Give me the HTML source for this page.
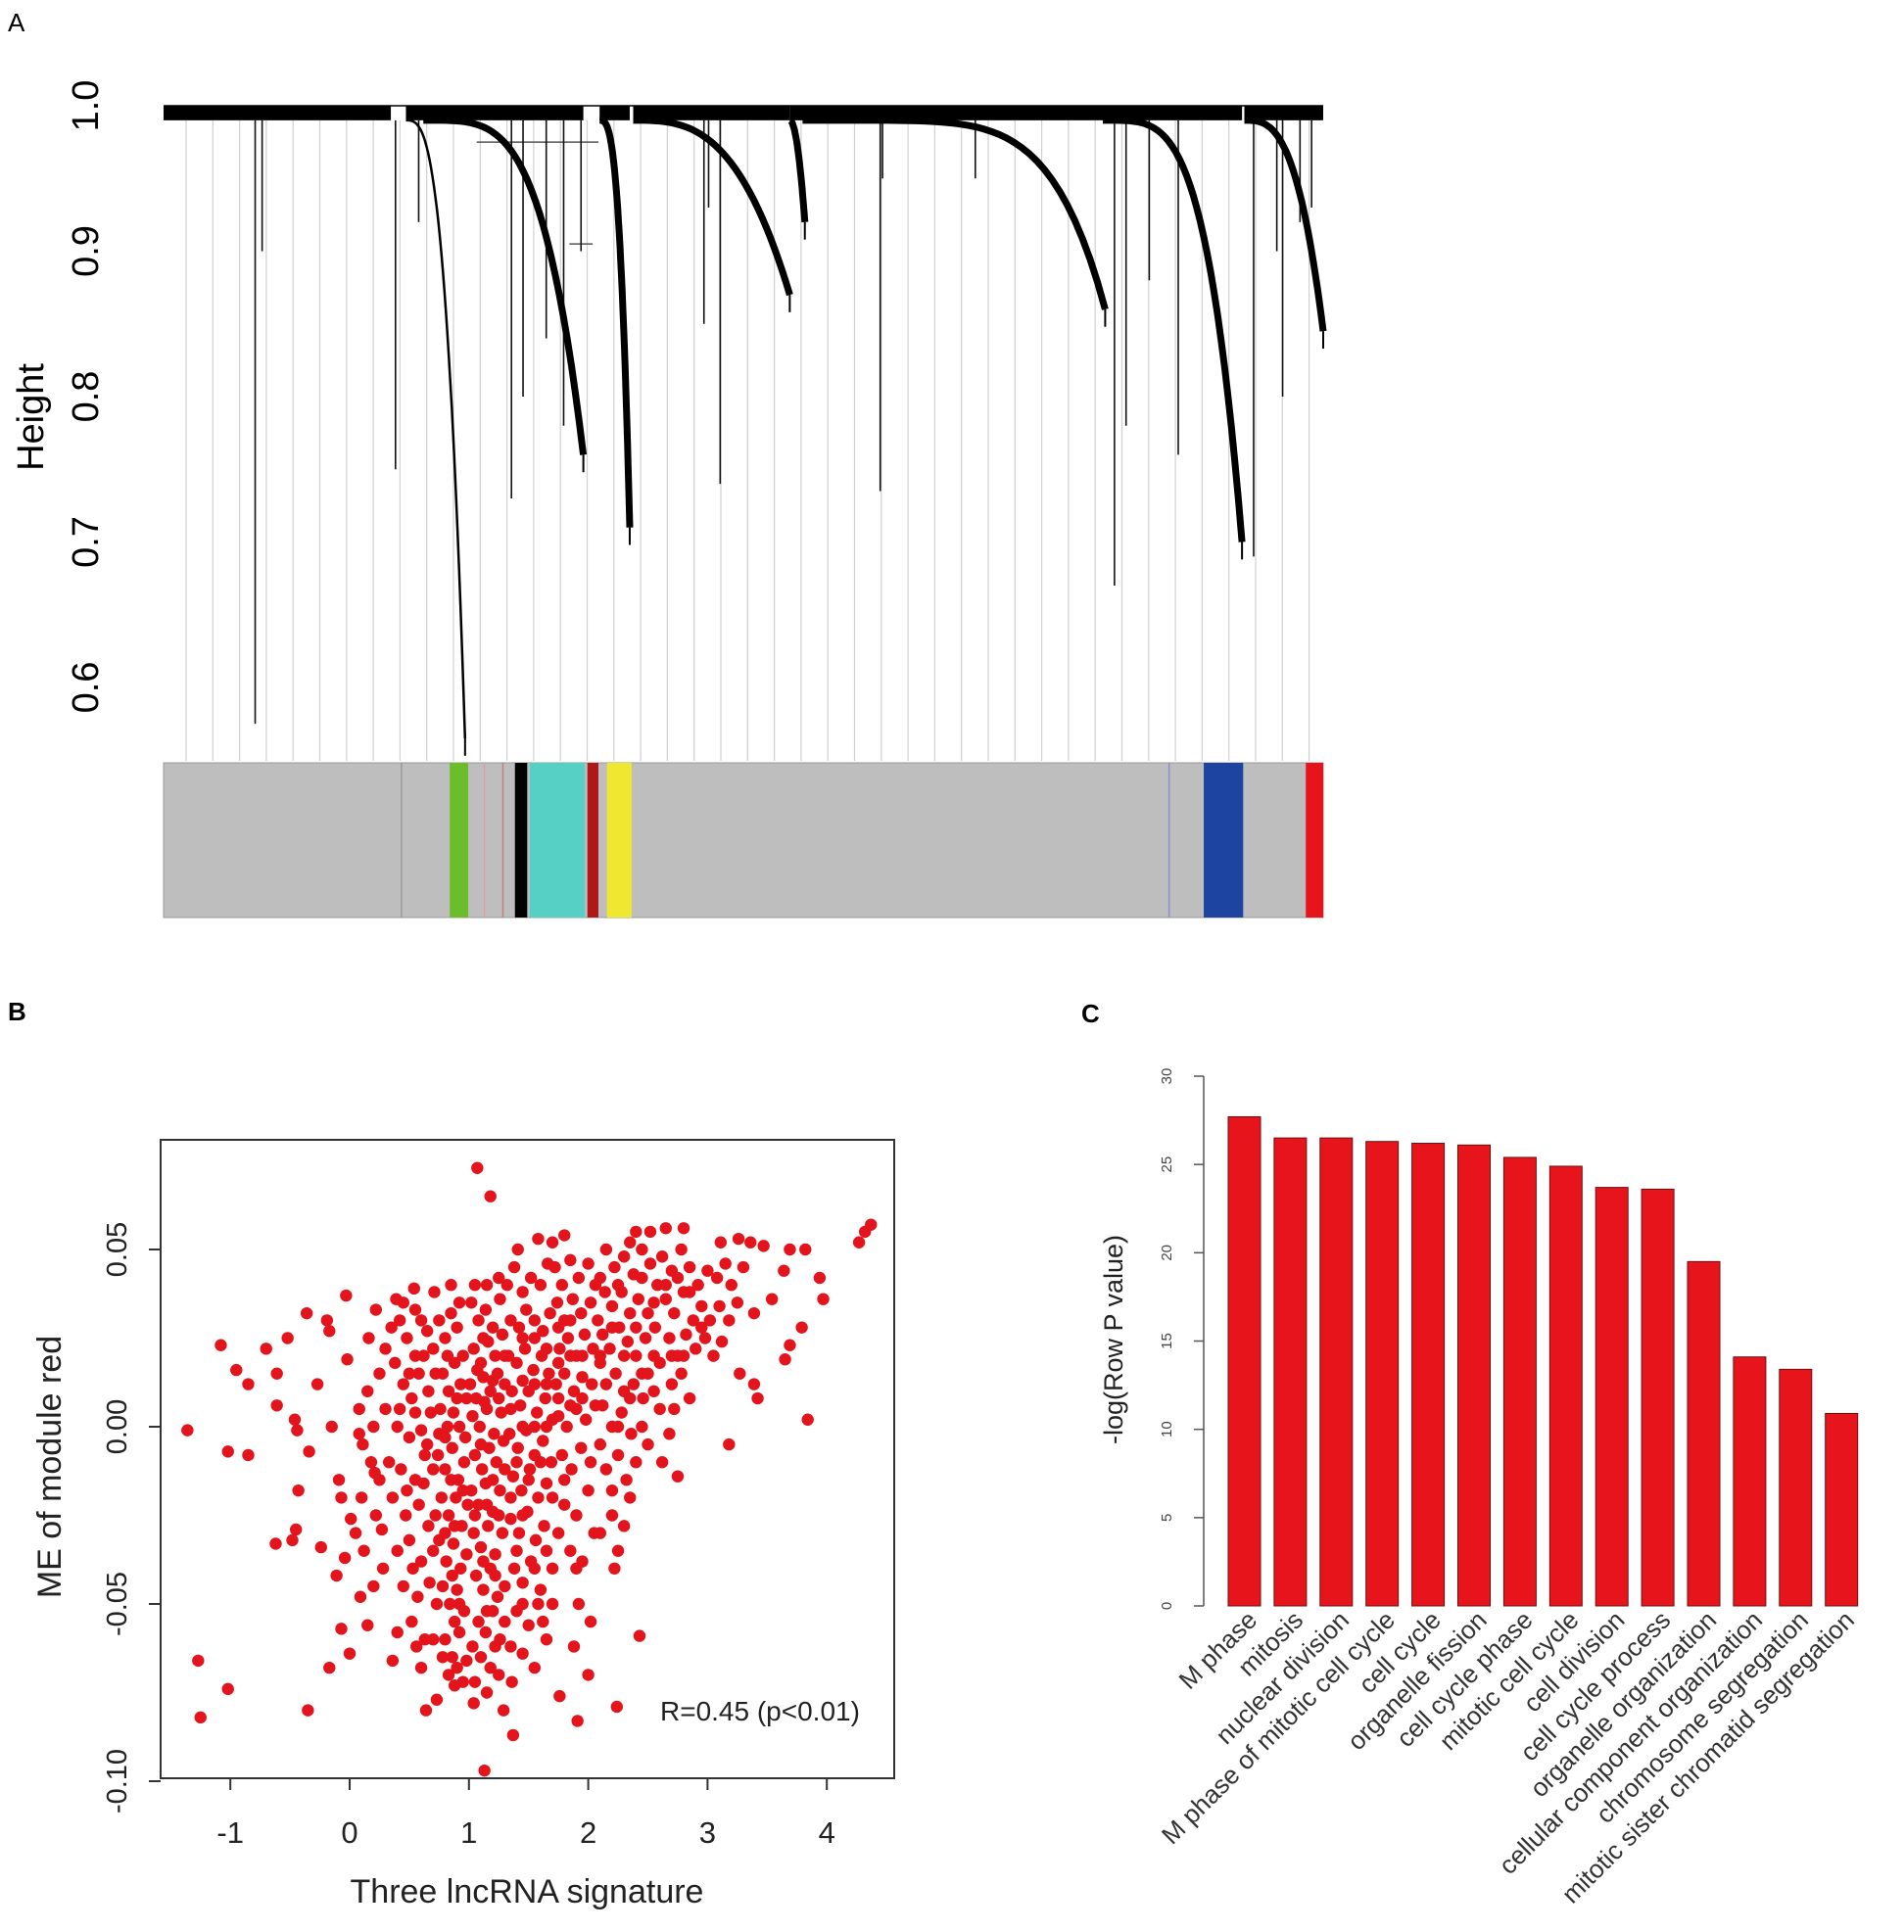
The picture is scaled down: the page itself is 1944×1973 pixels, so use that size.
<!DOCTYPE html>
<html><head><meta charset="utf-8"><style>
html,body{margin:0;padding:0;background:#fff;}
svg{display:block;font-family:"Liberation Sans",Arial,sans-serif;}
</style></head><body>
<svg id="fig" width="1944" height="1973" viewBox="0 0 1944 1973" xmlns="http://www.w3.org/2000/svg">
<rect width="1944" height="1973" fill="#fff"/>
<text x="8" y="32" font-size="26">A</text>
<text x="8" y="1042" font-size="26" font-weight="bold">B</text>
<text x="1104" y="1044" font-size="26" font-weight="bold">C</text>
<g id="panelA"></g>
<g id="panelB"></g>
<g id="panelC"></g>
</svg>
<script>
const NS="http://www.w3.org/2000/svg";
function mk(parent,tag,attrs,text){const e=document.createElementNS(NS,tag);for(const k in attrs)e.setAttribute(k,attrs[k]);if(text!==undefined)e.textContent=text;parent.appendChild(e);return e;}

/* ---------- Panel A: dendrogram ---------- */
const dendroTicks=[1.0,0.9,0.8,0.7,0.6];
const clusterStart=[0.0,0.209,0.224,0.376,0.405,0.540,0.551,0.810,0.932];
const clusterEnd=[0.196,0.260,0.362,0.402,0.540,0.553,0.812,0.930,1.0];
const clusterEndH=[0.986,0.565,0.76,0.71,0.87,0.92,0.86,0.70,0.845];
const clusterPow=[1,3,4,3,3,2,6,4,3];
const spikeFrac=[0.079,0.085,0.2,0.22,0.3,0.31,0.33,0.345,0.36,0.48,0.466,0.618,0.47,0.62,0.70,0.82,0.83,0.85,0.875,0.94,0.96,0.965,0.98,0.99];
const spikeH=[0.575,0.90,0.75,0.92,0.73,0.80,0.84,0.78,0.90,0.74,0.85,0.735,0.93,0.95,0.95,0.67,0.78,0.88,0.76,0.69,0.90,0.80,0.92,0.93];
const colorSegStart=[0.2045,0.2468,0.276,0.292,0.303,0.3157,0.3655,0.3824,0.8665,0.897,0.985];
const colorSegEnd=[0.2055,0.2627,0.277,0.293,0.3136,0.3633,0.375,0.4036,0.8675,0.931,1.0];
const colorSegCol=["#999","#6cbd2c","#d9a0a0","#c08080","#000","#56cfc4","#b01818","#f0e830","#8890d0","#1c44a0","#e8141b"];

const A=document.getElementById('panelA');
const aX0=167,aX1=1351,aY1=108,aYs=1485;
const xA=f=>aX0+f*(aX1-aX0);
const yA=h=>aY1+(1-h)*aYs;
dendroTicks.forEach(t=>{
  const y=yA(t);
  const tx=mk(A,'text',{x:0,y:0,'font-size':38,'text-anchor':'middle',transform:`translate(100,${y}) rotate(-90)`},t.toFixed(1));
  
  
});
const hl=mk(A,'text',{x:0,y:0,'font-size':38,'text-anchor':'middle',transform:`translate(44,426) rotate(-90)`},'Height');


for(let x=190;x<aX1;x+=27.3){
  const l=mk(A,'line',{x1:x,x2:x,y1:yA(0.99),y2:777,stroke:'#d0d0d0','stroke-width':1.2});
  
  
}
const rootLine=mk(A,'line',{x1:aX0,x2:aX1,y1:yA(1.0),y2:yA(1.0),stroke:'#000','stroke-width':1.5});


mk(A,'line',{x1:xA(0.27),x2:xA(0.375),y1:yA(0.975),y2:yA(0.975),stroke:'#555','stroke-width':1.5});
mk(A,'line',{x1:xA(0.35),x2:xA(0.37),y1:yA(0.905),y2:yA(0.905),stroke:'#555','stroke-width':1.5});
spikeFrac.forEach((f,i)=>{
  const l=mk(A,'line',{x1:xA(f),x2:xA(f),y1:yA(0.99),y2:yA(spikeH[i]),stroke:'#111','stroke-width':1.6});
  
  
});
clusterStart.forEach((s,i)=>{
  const e=clusterEnd[i],hE=clusterEndH[i],p=clusterPow[i];
  const band=mk(A,'rect',{x:xA(s),y:yA(1.0),width:xA(e)-xA(s),height:yA(0.99)-yA(1.0),fill:'#000'});
  
  
  if(hE<0.98){
    let d='';
    for(let k=0;k<=40;k++){const t=k/40;const h=0.99-(0.99-hE)*Math.pow(t,p);d+=(k?'L':'M')+xA(s+(e-s)*t).toFixed(1)+','+yA(h).toFixed(1);}
    const c=mk(A,'path',{d:d,fill:'none',stroke:'#000','stroke-width':i==1?2.5:7});
    
    
    mk(A,'line',{x1:xA(e),x2:xA(e),y1:yA(hE),y2:yA(hE-0.012),stroke:'#000','stroke-width':2});
  }
});
const colorBar=mk(A,'rect',{x:aX0,y:779,width:aX1-aX0,height:158,fill:'#bebebe',stroke:'#999','stroke-width':1});


colorSegStart.forEach((s,i)=>{
  const r=mk(A,'rect',{x:xA(s),y:779,width:Math.max(1.5,xA(colorSegEnd[i])-xA(s)),height:158,fill:colorSegCol[i]});
  
  
});

/* ---------- Panel B: scatter ---------- */
const sigX=[-1.36,-1.27,-1.25,-1.02,-1.08,-1.02,-0.95,-0.85,-0.85,-0.70,-0.61,-0.61,-0.62,-0.52,-0.46,-0.44,-0.43,-0.45,-0.48,-0.36,-0.35,-0.34,-0.27,-0.24,-0.19,-0.17,-0.17,-0.15,-0.11,-0.03,0,-0.04,-0.07,-0.02,-0.09,-0.07,0.01,0.09,0.15,0.11,0.08,0.16,0.22,0.21,0.27,0.36,0.40,0.39,0.54,0.56,0.64,0.71,0.73,0.88,1.04,1.07,1.18,1.13,1.29,1.37,1.41,1.58,1.70,1.80,1.76,1.91,2.24,2.43,2.40,2.52,2.65,2.80,2.75,3.18,3.11,3.26,3.36,3.47,3.27,3.39,3.42,3.39,3.54,3.64,3.69,3.65,3.69,3.79,3.84,3.82,3.94,3.97,4.27,4.32,4.37,
0.35,0.42,0.48,0.55,0.6,0.65,0.7,0.38,0.45,0.52,0.58,0.66,0.3,0.4,0.5,0.6,0.68,0.33,0.43,0.55,0.63,0.7,0.36,0.47,0.58,0.66,0.4,0.5,0.6,0.7,0.45,0.57,0.67,0.52,0.63,0.28,0.25,0.2,0.15,0.1,0.05,0.12,0.2,0.25,0.3,0.18,0.08,0.22,
0.75,0.8,0.85,0.9,0.95,0.78,0.83,0.88,0.93,0.98,0.76,0.82,0.87,0.92,0.97,0.74,0.8,0.86,0.91,0.96,0.77,0.83,0.89,0.94,0.99,0.75,0.81,0.87,0.93,0.98,0.78,0.84,0.9,0.96,0.8,0.86,0.92,0.98,0.83,0.95,
1.02,1.08,1.14,1.2,1.26,1.04,1.1,1.16,1.22,1.28,1.01,1.06,1.12,1.18,1.24,1.3,1.03,1.09,1.15,1.21,1.27,1.05,1.11,1.17,1.23,1.29,1.02,1.08,1.14,1.2,1.26,1.04,1.1,1.16,1.22,1.28,1.06,1.12,1.18,1.24,1.08,1.14,1.2,1.26,1.1,1.18,1.03,1.25,
1.32,1.38,1.45,1.52,1.6,1.66,1.35,1.42,1.48,1.55,1.62,1.68,1.33,1.4,1.47,1.54,1.61,1.67,1.36,1.43,1.5,1.57,1.64,1.7,1.34,1.41,1.48,1.55,1.62,1.69,1.37,1.44,1.51,1.58,1.65,1.35,1.42,1.49,1.56,1.63,1.38,1.45,1.52,1.6,1.4,1.5,1.58,1.45,1.55,1.36,1.65,1.7,
1.72,1.78,1.85,1.92,2.0,2.06,1.74,1.8,1.87,1.94,2.02,2.08,1.76,1.83,1.9,1.97,2.04,1.73,1.8,1.88,1.95,2.03,2.1,1.75,1.82,1.9,1.98,2.06,1.78,1.86,1.94,2.02,1.8,1.9,2.0,1.85,1.95,2.05,1.92,2.02,2.0,1.88,
2.15,2.22,2.3,2.38,2.45,2.52,2.58,2.14,2.2,2.28,2.35,2.42,2.5,2.56,2.12,2.18,2.26,2.33,2.4,2.48,2.55,2.15,2.23,2.3,2.38,2.46,2.2,2.28,2.36,2.15,2.25,2.32,2.2,2.3,2.22,2.35,2.45,
2.62,2.7,2.78,2.85,2.92,3.0,3.08,3.15,2.65,2.72,2.8,2.88,2.95,3.02,3.1,3.18,2.68,2.75,2.82,2.9,2.98,3.05,3.12,2.7,2.78,2.85,2.6,2.68,2.62,3.2,3.25,3.3,2.72];
const meY=[-0.001,-0.066,-0.082,-0.074,0.023,-0.007,0.016,0.012,-0.008,0.022,0.015,0.006,-0.033,0.025,0.002,-0.001,-0.018,-0.029,-0.032,0.032,-0.080,-0.007,0.012,-0.034,0.030,0.027,-0.068,0.0,-0.042,0.037,-0.064,-0.037,-0.057,0.019,-0.015,-0.020,-0.026,-0.048,-0.056,-0.005,-0.002,0.025,0.033,-0.013,-0.029,-0.066,-0.058,0.036,0.039,-0.062,-0.080,0.038,-0.077,-0.073,-0.078,0.073,0.065,-0.097,-0.080,-0.087,0.050,0.053,0.052,0.054,-0.076,-0.083,-0.079,-0.059,0.055,0.055,0.056,0.056,-0.014,-0.005,0.052,0.053,0.052,0.051,0.015,0.012,0.008,0.032,0.036,0.044,0.050,0.019,0.023,0.028,0.002,0.050,0.042,0.036,0.052,0.055,0.057,
0.028,0.03,0.025,0.02,0.03,0.027,0.022,0.018,0.012,0.008,0.015,0.01,0.005,0.0,-0.003,-0.001,0.004,-0.01,-0.012,-0.015,-0.008,-0.012,-0.02,-0.025,-0.022,-0.028,-0.035,-0.032,-0.038,-0.035,-0.045,-0.048,-0.044,-0.055,-0.06,-0.04,-0.015,0.0,0.01,-0.02,-0.03,-0.035,-0.045,0.015,0.022,-0.01,0.005,-0.025,
0.03,0.025,0.032,0.028,0.02,0.015,0.01,0.018,0.012,0.008,0.005,0.0,0.004,0.0,-0.003,-0.008,-0.012,-0.006,-0.015,-0.01,-0.02,-0.025,-0.02,-0.028,-0.022,-0.032,-0.038,-0.033,-0.04,-0.036,-0.045,-0.05,-0.046,-0.052,-0.06,-0.065,-0.058,-0.066,-0.07,-0.072,
0.035,0.03,0.033,0.028,0.036,0.022,0.018,0.024,0.02,0.026,0.012,0.008,0.014,0.01,0.015,0.012,0.003,0.0,0.005,-0.002,0.004,-0.008,-0.012,-0.006,-0.01,-0.004,-0.018,-0.022,-0.016,-0.024,-0.018,-0.03,-0.034,-0.028,-0.036,-0.03,-0.042,-0.046,-0.04,-0.048,-0.055,-0.058,-0.052,-0.06,-0.065,-0.068,-0.062,-0.07,
0.04,0.045,0.038,0.042,0.04,0.046,0.03,0.028,0.033,0.03,0.027,0.032,0.02,0.018,0.022,0.016,0.02,0.015,0.01,0.006,0.01,0.004,0.008,0.002,-0.002,-0.006,-0.001,-0.008,-0.004,-0.01,-0.014,-0.018,-0.012,-0.02,-0.016,-0.026,-0.03,-0.024,-0.032,-0.028,-0.04,-0.044,-0.038,-0.046,-0.052,-0.056,-0.05,-0.064,-0.068,-0.072,-0.06,-0.04,
0.045,0.04,0.047,0.042,0.046,0.04,0.035,0.03,0.036,0.032,0.035,0.03,0.022,0.025,0.02,0.026,0.022,0.012,0.015,0.01,0.014,0.012,0.018,0.003,0.0,0.005,0.002,0.006,-0.008,-0.012,-0.006,-0.01,-0.022,-0.025,-0.018,-0.035,-0.038,-0.03,-0.05,-0.055,-0.07,-0.062,
0.05,0.045,0.048,0.043,0.05,0.046,0.04,0.038,0.034,0.038,0.032,0.036,0.032,0.028,0.026,0.022,0.028,0.024,0.02,0.025,0.02,0.012,0.015,0.01,0.012,0.008,0.0,0.004,-0.002,-0.012,-0.008,-0.015,-0.025,-0.028,-0.04,-0.02,0.0,
0.048,0.044,0.05,0.045,0.04,0.044,0.042,0.046,0.036,0.032,0.038,0.03,0.034,0.03,0.034,0.03,0.025,0.02,0.026,0.022,0.025,0.02,0.024,0.012,0.015,0.008,0.005,-0.002,-0.01,0.04,0.035,0.045,0.005];
const extraSigX=[0.45,0.55,0.62,0.72,0.5,0.42,0.55,0.65,0.75,0.48,0.62,0.72,0.53,0.73,0.6,0.7,0.85,0.92,0.82,0.9,0.8,0.95,0.85,0.88,0.8,0.92,0.86,0.88,0.9,0.78,
1.05,1.15,1.25,1.12,1.2,1.3,1.07,1.13,1.25,1.35,1.1,1.2,1.3,1.4,1.05,1.15,1.25,1.35,1.45,1.12,1.22,1.3,1.4,1.15,1.3,1.45,1.22,1.35,1.15,1.05,
1.45,1.55,1.65,1.75,1.85,1.95,1.45,1.55,1.65,1.75,1.85,1.45,1.55,1.65,1.75,1.85,1.95,1.5,1.6,1.7,1.8,1.55,1.65,1.75,1.62,1.7,1.9,
2.1,2.25,2.35,2.45,2.55,2.65,2.75,2.85,2.95,2.1,2.2,2.3,2.4,2.5,2.6,2.7,2.8,2.12,2.25,2.35,2.45,2.55,2.1,2.2,2.4,2.5,2.1,2.25];
const extraMeY=[0.035,0.033,0.02,0.015,0.015,0.005,0.004,-0.005,-0.002,-0.018,-0.016,-0.025,-0.04,-0.05,-0.068,-0.06,0.04,0.035,0.02,0.008,-0.003,-0.018,-0.015,-0.028,-0.03,-0.05,-0.042,-0.055,-0.068,-0.065,
0.04,0.04,0.042,0.025,0.013,0.02,0.016,0.007,0.008,0.005,-0.005,-0.015,-0.012,-0.01,-0.025,-0.022,-0.025,-0.02,-0.025,-0.038,-0.042,-0.045,-0.035,-0.052,-0.055,-0.05,-0.062,-0.062,-0.075,-0.072,
0.025,0.025,0.022,0.028,0.03,0.02,0.013,0.012,0.012,0.018,0.02,0.0,0.0,0.0,0.008,0.006,0.008,-0.015,-0.01,-0.02,-0.015,-0.04,-0.035,-0.03,-0.055,-0.05,-0.04,
0.042,0.04,0.052,0.042,0.035,0.04,0.042,0.038,0.028,0.02,0.028,0.02,0.028,0.015,0.018,0.02,0.02,0.006,0.0,0.008,0.015,0.01,-0.005,-0.018,-0.01,-0.005,-0.03,-0.035];
const xTicksB=[-1,0,1,2,3,4];
const yTicksB=[0.05,0.00,-0.05,-0.10];
const yTickLabB=["0.05","0.00","-0.05","-0.10"];
const B=document.getElementById('panelB');
const bL=164,bR=913,bT=1164,bB=1816;
const xB=v=>357+v*121.8;
const yB=v=>1457-v*3620;
const box=mk(B,'rect',{x:bL,y:bT,width:bR-bL,height:bB-bT,fill:'none',stroke:'#333','stroke-width':2});


xTicksB.forEach(t=>{
  mk(B,'line',{x1:xB(t),x2:xB(t),y1:bB,y2:bB+12,stroke:'#333','stroke-width':2});
  const tx=mk(B,'text',{x:xB(t),y:1882,'font-size':31,'text-anchor':'middle',fill:'#222'},String(t));
  
  
});
yTicksB.forEach((t,i)=>{
  mk(B,'line',{x1:bL,x2:bL-12,y1:yB(t),y2:yB(t),stroke:'#333','stroke-width':2});
  const tx=mk(B,'text',{x:0,y:0,'font-size':29,'text-anchor':'middle',fill:'#222',transform:`translate(129,${yB(t)}) rotate(-90)`},yTickLabB[i]);
  
  
});
const xt=mk(B,'text',{x:538,y:1943,'font-size':34,'text-anchor':'middle',fill:'#222'},'Three lncRNA signature');


const yt=mk(B,'text',{x:0,y:0,'font-size':34,'text-anchor':'middle',fill:'#222',transform:`translate(62,1498) rotate(-90)`},'ME of module red');


function drawPts(xs,ys){
  xs.forEach((x,i)=>{
    if(ys[i]===undefined)return;
    const c=mk(B,'circle',{cx:xB(x),cy:yB(ys[i]),r:6.2,fill:'#e3141b'});
    
    
  });
}
drawPts(sigX,meY);
drawPts(extraSigX,extraMeY);
const rt=mk(B,'text',{x:674,y:1757,'font-size':28,fill:'#222'},'R=0.45 (p<0.01)');



/* ---------- Panel C: bar chart ---------- */
const goTerms=["M phase","mitosis","nuclear division","M phase of mitotic cell cycle","cell cycle","organelle fission","cell cycle phase","mitotic cell cycle","cell division","cell cycle process","organelle organization","cellular component organization","chromosome segregation","mitotic sister chromatid segregation"];
const goValues=[27.7,26.5,26.5,26.3,26.2,26.1,25.4,24.9,23.7,23.6,19.5,14.1,13.4,10.9];
const yTicksC=[0,5,10,15,20,25,30];
const C=document.getElementById('panelC');
const cAx=1229,c0=1640,cS=(1640-1099)/30;
const yC=v=>c0-v*cS;
const xC=i=>1254+i*46.9;
const bw=33;
mk(C,'line',{x1:cAx,x2:cAx,y1:yC(0),y2:yC(30),stroke:'#555','stroke-width':1.5});
yTicksC.forEach(t=>{
  mk(C,'line',{x1:cAx,x2:cAx-10,y1:yC(t),y2:yC(t),stroke:'#555','stroke-width':1.5});
  const tx=mk(C,'text',{x:0,y:0,'font-size':15,'text-anchor':'middle',fill:'#444',transform:`translate(1196,${yC(t)}) rotate(-90)`},String(t));
  
  
});
const ct=mk(C,'text',{x:0,y:0,'font-size':27,'text-anchor':'middle',fill:'#222',transform:`translate(1146,1368) rotate(-90)`},'-log(Row P value)');


goValues.forEach((v,i)=>{
  const r=mk(C,'rect',{x:xC(i),y:yC(v),width:bw,height:yC(0)-yC(v),fill:'#e8141b',stroke:'#6a1010','stroke-width':1});
  
  
  const t=mk(C,'text',{x:0,y:0,'font-size':26,'text-anchor':'end',fill:'#333',transform:`translate(${xC(i)+bw-2},${yC(0)+16}) rotate(-45)`},goTerms[i]);
  
  
});
</script>
</body></html>
